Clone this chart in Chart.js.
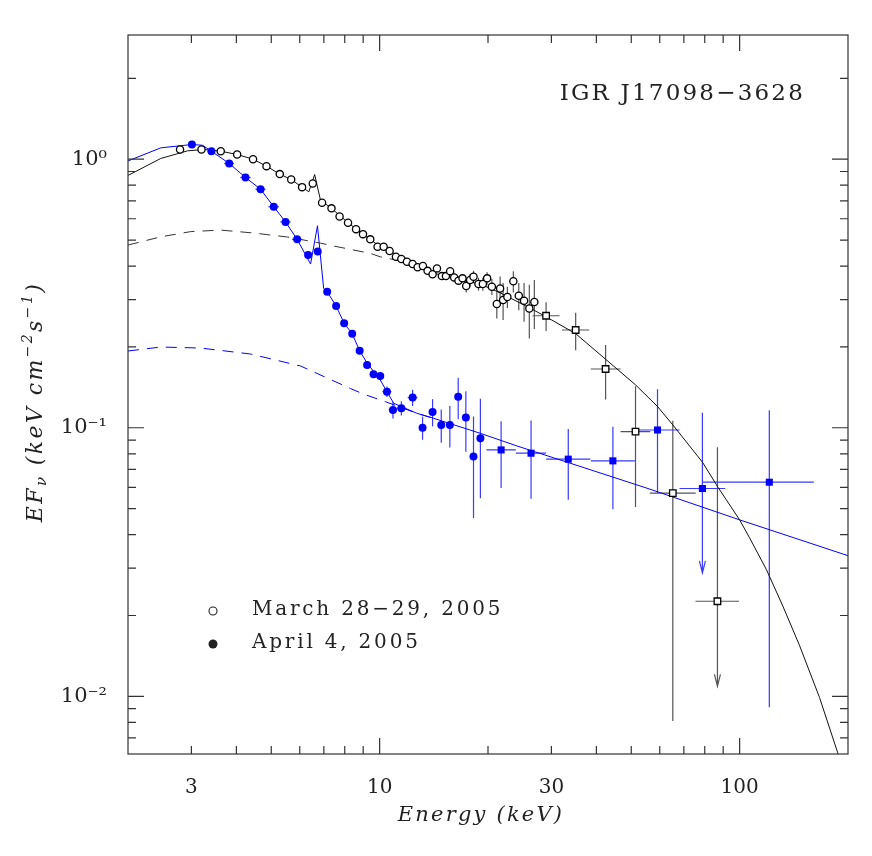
<!DOCTYPE html>
<html>
<head>
<meta charset="utf-8">
<script src="https://cdn.jsdelivr.net/npm/chart.js@4.4.1/dist/chart.umd.min.js"></script>
<style>
  html, body { margin: 0; padding: 0; background: #fff; }
</style>
</head>
<body>
<canvas id="chart" width="872" height="856"></canvas>
<script>
// March 28-29, 2005 (open circles, low energy)
const marchEnergy = [2.79, 3.20, 3.62, 4.02, 4.45, 4.85, 5.28, 5.68, 6.09, 6.52, 6.92, 7.35, 7.74, 8.17, 8.60, 8.99, 9.42,
  9.87, 10.26, 10.66, 11.10, 11.49, 11.91, 12.35, 12.75, 13.19, 13.59, 14.03, 14.43, 14.89, 15.28, 15.70, 16.11, 16.56,
  16.99, 17.40, 17.84, 18.23, 18.82, 19.35, 19.89, 20.50, 21.16, 21.61, 22.03, 22.64, 23.52, 24.35, 25.19, 26.05, 26.90];
const marchFlux = [1.087, 1.087, 1.071, 1.041, 1.000, 0.942, 0.880, 0.840, 0.787, 0.812, 0.688, 0.656, 0.612, 0.580, 0.549, 0.526, 0.503,
  0.472, 0.472, 0.455, 0.433, 0.425, 0.415, 0.407, 0.396, 0.400, 0.384, 0.373, 0.392, 0.367, 0.367, 0.383, 0.363, 0.353,
  0.360, 0.337, 0.355, 0.365, 0.343, 0.343, 0.360, 0.335, 0.289, 0.330, 0.299, 0.307, 0.351, 0.310, 0.297, 0.278, 0.294];
const marchErr = [0, 0, 0, 0, 0, 0, 0, 0, 0, 0, 0, 0, 0, 0, 0, 0, 0,
  0.006, 0.006, 0.006, 0.006, 0.006, 0.006, 0.006, 0.006, 0.006, 0.010, 0.010, 0.010, 0.012, 0.012, 0.012, 0.012, 0.012,
  0.012, 0.018, 0.019, 0.019, 0.019, 0.019, 0.019, 0.023, 0.034, 0.036, 0.047, 0.028, 0.032, 0.036, 0.049, 0.063, 0.061];

// March 28-29, 2005 (open squares, high energy)
const marchHxEnergy = [29.00, 35.04, 42.43, 51.38, 65.22, 86.77];
const marchHxFlux = [0.2613, 0.2312, 0.1655, 0.0967, 0.0571, 0.0226];
const marchHxLo = [26.6, 32.1, 38.6, 46.7, 56.3, 75.4];
const marchHxHi = [31.6, 38.2, 46.7, 56.5, 75.5, 99.6];
const marchHxErr = [0.032, 0.037, 0.038, 0.046, 0.049, 0.062];
const marchHxLimit = [0, 0, 0, 0, 0, 0.0109];

// April 4, 2005 (filled circles)
const aprilEnergy = [3.01, 3.41, 3.82, 4.24, 4.67, 5.08, 5.48, 5.90, 6.33, 6.73, 7.15, 7.57, 7.97, 8.39, 8.80,
  9.23, 9.62, 10.04, 10.48, 10.89, 11.49, 12.35, 13.16, 14.03, 14.83, 15.67, 16.53, 17.36, 18.23, 19.05];
const aprilFlux = [1.134, 1.071, 0.964, 0.855, 0.773, 0.665, 0.584, 0.503, 0.440, 0.453, 0.321, 0.284, 0.245, 0.224, 0.1936,
  0.1713, 0.1581, 0.1559, 0.1363, 0.1165, 0.1182, 0.1295, 0.1001, 0.1145, 0.1024, 0.1024, 0.1306, 0.1091, 0.0781, 0.0914];
const aprilErr = [0, 0, 0, 0, 0, 0, 0, 0, 0, 0, 0.005, 0.005, 0.005, 0.005, 0.005,
  0.005, 0.005, 0.005, 0.006, 0.0083, 0.0072, 0.0091, 0.0099, 0.0133, 0.0145, 0.018, 0.0231, 0.0277, 0.032, 0.0368];
const aprilEnergyErr = [0.07, 0.08, 0.12, 0.14, 0.15, 0.17, 0.18, 0.19, 0, 0, 0, 0, 0, 0, 0,
  0, 0, 0, 0.30, 0.30, 0.35, 0.38, 0, 0, 0, 0, 0, 0, 0, 0];

// April 4, 2005 (filled squares)
const aprilHxEnergy = [21.75, 26.34, 33.42, 44.46, 59.14, 78.81, 120.9];
const aprilHxFlux = [0.0827, 0.0804, 0.0764, 0.0753, 0.0981, 0.0594, 0.0627];
const aprilHxLo = [19.8, 23.9, 29.0, 38.6, 51.3, 68.1, 78.6];
const aprilHxHi = [23.9, 29.0, 38.5, 51.2, 68.1, 91.2, 160.7];
const aprilHxErr = [0.023, 0.026, 0.0225, 0.0256, 0.041, 0.0544, 0.0536];
const aprilHxLimit = [0, 0, 0, 0, 0, 0.0288, 0];

// best-fit models
const marchModelE = [2.0, 2.466, 2.924, 3.245, 3.62, 4.02, 4.45, 4.85, 5.28, 5.68, 6.09, 6.36, 6.60, 6.85, 7.35, 8.17, 8.99,
  9.87, 11.10, 12.35, 14.03, 16.11, 19.02, 21.61, 26.17, 29.00, 35.04, 42.43, 51.38, 59.14, 65.22, 78.81, 87.1, 100,
  106.6, 118.6, 131.8, 146.6, 166.7, 187.3, 200];
const marchModelF = [0.870, 1.006, 1.074, 1.087, 1.071, 1.041, 1.000, 0.942, 0.880, 0.840, 0.787, 0.756, 0.877, 0.704, 0.656, 0.580, 0.526,
  0.480, 0.440, 0.410, 0.378, 0.358, 0.343, 0.318, 0.279, 0.259, 0.224, 0.180, 0.1445, 0.120, 0.1025, 0.0745, 0.0600, 0.0454,
  0.0389, 0.0297, 0.0217, 0.0155, 0.0099, 0.00616, 0.0047];
const marchCompE = [2.0, 2.466, 2.987, 3.62, 4.47, 5.55, 6.85, 7.46, 9.42, 10.04, 11.41, 12.35, 14.03];
const marchCompF = [0.479, 0.514, 0.5375, 0.5445, 0.531, 0.513, 0.487, 0.475, 0.446, 0.433, 0.418, 0.405, 0.377];

const aprilModelE = [2.0, 2.466, 3.006, 3.22, 3.41, 3.82, 4.24, 4.67, 5.08, 5.48, 5.90, 6.43, 6.72, 6.99, 7.15, 7.57, 7.97,
  8.39, 8.80, 9.23, 10.04, 10.94, 12.69, 14.11, 19.02, 24.04, 33.42, 56.3, 100, 200];
const aprilModelF = [0.985, 1.102, 1.134, 1.127, 1.071, 0.964, 0.855, 0.773, 0.665, 0.584, 0.503, 0.407, 0.565, 0.330, 0.321, 0.284, 0.245,
  0.224, 0.1936, 0.1742, 0.1506, 0.1234, 0.1132, 0.1085, 0.0954, 0.0856, 0.0742, 0.0591, 0.0454, 0.0334];
const aprilCompE = [2.0, 2.466, 3.18, 4.38, 6.03, 8.30, 9.01, 10.37, 12.69, 14.11];
const aprilCompF = [0.1931, 0.1998, 0.1981, 0.1882, 0.1698, 0.140, 0.1335, 0.1251, 0.1132, 0.1085];

// axes
const xTickValues = [3, 10, 30, 100];
const yTickValues = [0.01, 0.1, 1];
const yTickLabels = ['10\u207B\u00B2', '10\u207B\u00B9', '10\u2070'];
const xMajor = [10, 100];
const xMinor = [3, 4, 5, 6, 7, 8, 9, 20, 30, 40, 50, 60, 70, 80, 90];
const yMajor = [0.01, 0.1, 1];
const yMinor = [0.007, 0.008, 0.009, 0.02, 0.03, 0.04, 0.05, 0.06, 0.07, 0.08, 0.09,
  0.2, 0.3, 0.4, 0.5, 0.6, 0.7, 0.8, 0.9, 2];

const BLUE = '#0000ff';
const SERIF = '"DejaVu Serif", "Liberation Serif", serif';

function pts(xs, ys) {
  return xs.map((v, i) => ({ x: v, y: ys[i] }));
}

function drawBars(chart, E, F, lo, hi, sig, limit, color) {
  const { ctx, scales: { x, y } } = chart;
  ctx.strokeStyle = color;
  ctx.lineWidth = 1.2;
  E.forEach((e, i) => {
    const px = x.getPixelForValue(e);
    const py = y.getPixelForValue(F[i]);
    ctx.beginPath();
    if (lo && hi && lo[i] && hi[i]) {
      ctx.moveTo(x.getPixelForValue(lo[i]), py);
      ctx.lineTo(x.getPixelForValue(hi[i]), py);
    }
    const lim = limit ? limit[i] : 0;
    if (sig[i] > 0) {
      const top = y.getPixelForValue(F[i] + sig[i]);
      let bottom;
      if (lim) bottom = y.getPixelForValue(lim);
      else if (F[i] - sig[i] > 0) bottom = y.getPixelForValue(F[i] - sig[i]);
      else bottom = chart.chartArea.bottom;
      ctx.moveTo(px, top);
      ctx.lineTo(px, bottom);
      if (lim) {
        ctx.moveTo(px - 3, bottom - 12);
        ctx.lineTo(px, bottom);
        ctx.lineTo(px + 3, bottom - 12);
      }
    }
    ctx.stroke();
  });
}

const errorBars = {
  id: 'errorBars',
  beforeDatasetsDraw(chart) {
    const { ctx, chartArea: a } = chart;
    ctx.save();
    ctx.beginPath();
    ctx.rect(a.left, a.top, a.right - a.left, a.bottom - a.top);
    ctx.clip();
    drawBars(chart, marchEnergy, marchFlux, null, null, marchErr, null, '#555');
    drawBars(chart, marchHxEnergy, marchHxFlux, marchHxLo, marchHxHi, marchHxErr, marchHxLimit, '#555');
    const aLo = aprilEnergy.map((e, i) => e - aprilEnergyErr[i]);
    const aHi = aprilEnergy.map((e, i) => e + aprilEnergyErr[i]);
    drawBars(chart, aprilEnergy, aprilFlux, aLo, aHi, aprilErr, null, '#3a3aff');
    drawBars(chart, aprilHxEnergy, aprilHxFlux, aprilHxLo, aprilHxHi, aprilHxErr, aprilHxLimit, '#3a3aff');
    ctx.restore();
  }
};

const frameAndText = {
  id: 'frameAndText',
  afterDatasetsDraw(chart) {
    const { ctx, chartArea: a, scales: { x, y } } = chart;
    ctx.save();
    ctx.strokeStyle = '#333';
    ctx.lineWidth = 1.2;
    ctx.strokeRect(a.left, a.top, a.right - a.left, a.bottom - a.top);

    // inward ticks on all four sides
    ctx.beginPath();
    const xt = (v, len) => {
      const p = x.getPixelForValue(v);
      ctx.moveTo(p, a.bottom); ctx.lineTo(p, a.bottom - len);
      ctx.moveTo(p, a.top); ctx.lineTo(p, a.top + len);
    };
    const yt = (v, len) => {
      const p = y.getPixelForValue(v);
      ctx.moveTo(a.left, p); ctx.lineTo(a.left + len, p);
      ctx.moveTo(a.right, p); ctx.lineTo(a.right - len, p);
    };
    xMajor.forEach(v => xt(v, 16));
    xMinor.forEach(v => xt(v, 8));
    yMajor.forEach(v => yt(v, 16));
    yMinor.forEach(v => yt(v, 8));
    ctx.stroke();

    ctx.fillStyle = '#222';
    ctx.textBaseline = 'middle';

    // source name
    ctx.font = '23px ' + SERIF;
    ctx.letterSpacing = '2.2px';
    ctx.textAlign = 'right';
    ctx.fillText('IGR J17098\u22123628', 805, 94);

    // legend
    ctx.textAlign = 'left';
    ctx.font = '20px ' + SERIF;
    ctx.letterSpacing = '2.8px';
    ctx.fillText('March 28\u221229, 2005', 252, 610);
    ctx.fillText('April 4, 2005', 252, 643);
    ctx.letterSpacing = '0px';
    ctx.lineWidth = 1.1;
    ctx.strokeStyle = '#222';
    ctx.beginPath();
    ctx.arc(213, 611, 4, 0, Math.PI * 2);
    ctx.stroke();
    ctx.beginPath();
    ctx.arc(213, 644, 4.5, 0, Math.PI * 2);
    ctx.fill();

    // x title
    ctx.textAlign = 'center';
    ctx.font = 'italic 21px ' + SERIF;
    ctx.letterSpacing = '2.2px';
    ctx.fillText('Energy (keV)', 481, 816);

    // y title with sub/superscripts
    const parts = [
      { t: 'EF', size: 22, dy: 0 },
      { t: '\u03BD', size: 15, dy: 6 },
      { t: ' (keV cm', size: 22, dy: 0 },
      { t: '\u22122', size: 14, dy: -8 },
      { t: 's', size: 22, dy: 0 },
      { t: '\u22121', size: 14, dy: -8 },
      { t: ')', size: 22, dy: 0 }
    ];
    ctx.letterSpacing = '2.4px';
    let total = 0;
    parts.forEach(p => {
      ctx.font = 'italic ' + p.size + 'px ' + SERIF;
      p.w = ctx.measureText(p.t).width;
      total += p.w;
    });
    ctx.translate(36, 402);
    ctx.rotate(-Math.PI / 2);
    ctx.textAlign = 'left';
    let cx = -total / 2;
    parts.forEach(p => {
      ctx.font = 'italic ' + p.size + 'px ' + SERIF;
      ctx.fillText(p.t, cx, p.dy);
      cx += p.w;
    });
    ctx.restore();
  }
};

const lineStyle = { showLine: true, pointRadius: 0, borderWidth: 1, fill: false, order: 2 };

new Chart(document.getElementById('chart'), {
  type: 'scatter',
  data: {
    datasets: [
      {
        label: 'March 28-29, 2005',
        data: pts(marchEnergy, marchFlux),
        pointStyle: 'circle', pointRadius: 3.6,
        backgroundColor: '#fff', borderColor: '#000', borderWidth: 1.3, order: 0
      },
      {
        label: 'March 28-29, 2005 (high energy)',
        data: pts(marchHxEnergy, marchHxFlux),
        pointStyle: 'rect', pointRadius: 4.6,
        backgroundColor: '#fff', borderColor: '#000', borderWidth: 1.3, order: 0
      },
      {
        label: 'April 4, 2005',
        data: pts(aprilEnergy, aprilFlux),
        pointStyle: 'circle', pointRadius: 4,
        backgroundColor: BLUE, borderColor: BLUE, borderWidth: 0, order: 0
      },
      {
        label: 'April 4, 2005 (high energy)',
        data: pts(aprilHxEnergy, aprilHxFlux),
        pointStyle: 'rect', pointRadius: 5,
        backgroundColor: BLUE, borderColor: BLUE, borderWidth: 0, order: 0
      },
      { label: 'March model', data: pts(marchModelE, marchModelF), borderColor: '#111', ...lineStyle },
      { label: 'March component', data: pts(marchCompE, marchCompF), borderColor: '#333', borderDash: [11, 8], ...lineStyle },
      { label: 'April model', data: pts(aprilModelE, aprilModelF), borderColor: BLUE, ...lineStyle },
      { label: 'April component', data: pts(aprilCompE, aprilCompF), borderColor: BLUE, borderDash: [11, 8], ...lineStyle }
    ]
  },
  options: {
    responsive: false,
    devicePixelRatio: 1,
    animation: false,
    layout: { padding: { top: 35, right: 24, left: 0, bottom: 0 } },
    plugins: { legend: { display: false }, tooltip: { enabled: false } },
    scales: {
      x: {
        type: 'logarithmic',
        min: 2,
        max: 200,
        grid: { display: false },
        border: { display: false },
        afterBuildTicks: s => { s.ticks = xTickValues.map(v => ({ value: v })); },
        afterFit: s => { s.height = 102; },
        ticks: {
          autoSkip: false,
          maxRotation: 0,
          padding: 14,
          color: '#222',
          font: { family: SERIF, size: 20 },
          callback: v => String(v)
        }
      },
      y: {
        type: 'logarithmic',
        min: 0.0061,
        max: 2.9,
        grid: { display: false },
        border: { display: false },
        afterBuildTicks: s => { s.ticks = yTickValues.map(v => ({ value: v })); },
        afterFit: s => { s.width = 128; },
        ticks: {
          autoSkip: false,
          padding: 13,
          color: '#222',
          font: { family: SERIF, size: 21 },
          callback: v => yTickLabels[yTickValues.indexOf(v)] || ''
        }
      }
    }
  },
  plugins: [errorBars, frameAndText]
});
</script>
</body>
</html>
